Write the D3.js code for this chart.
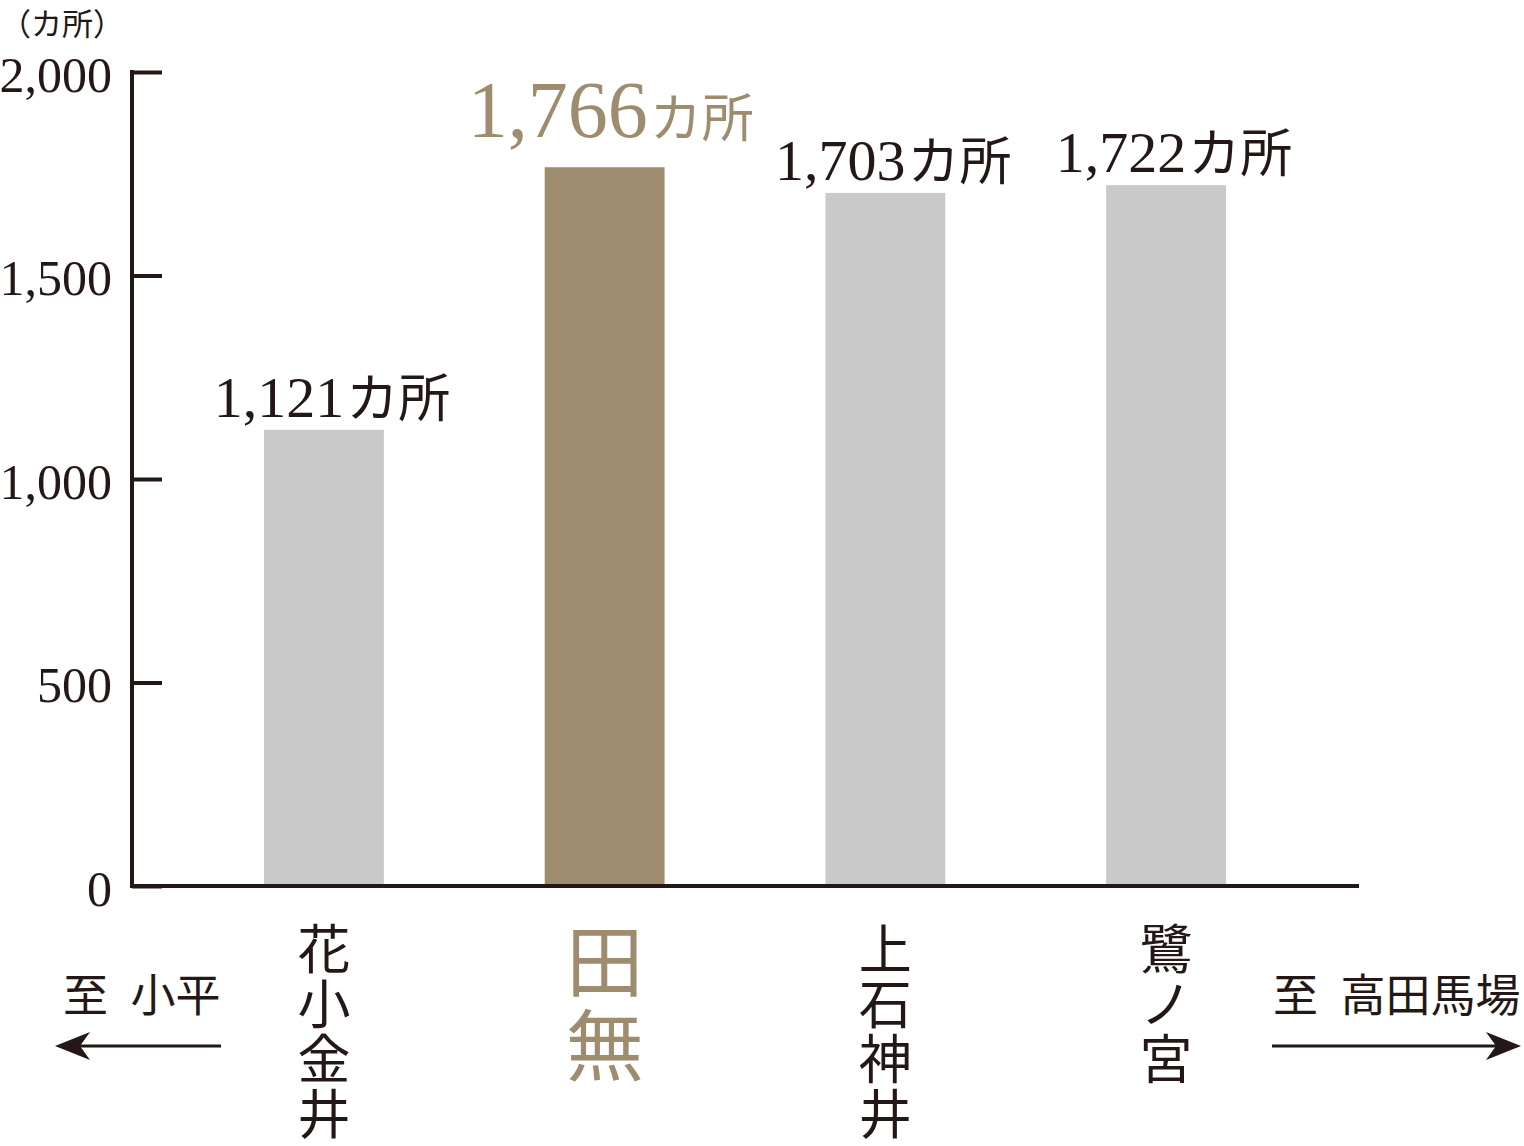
<!DOCTYPE html>
<html>
<head>
<meta charset="utf-8">
<script src="https://cdn.jsdelivr.net/npm/d3@7"></script>
<style>
  body { margin: 0; background: #fff; }
  svg { display: block; }
</style>
</head>
<body>
<div id="chart"></div>
<script>
// data
var stations = ["花小金井", "田無", "上石神井", "鷺ノ宮"];
var counts = [1121, 1766, 1703, 1722];
var highlight = "田無";
var yTicks = [0, 500, 1000, 1500, 2000];
var unitLabel = "（カ所）";
var valueUnit = "カ所";
var leftDirection = "至\u2002小平";
var rightDirection = "至\u2002高田馬場";

var svgWidth = 1524;
var svgHeight = 1146;

var ink = "#231815";
var grey = "#c9c9c9";
var brown = "#9e8c6e";
var serif = "'Liberation Serif', 'DejaVu Serif', serif";
var jp = "'Noto Sans CJK JP', sans-serif";

var svg = d3.select("#chart")
  .append("svg")
  .attr("width", svgWidth)
  .attr("height", svgHeight);

// scales
var x = d3.scaleBand()
  .domain(stations)
  .range([264, 1226])
  .paddingInner(0.573)
  .paddingOuter(0);

var y = d3.scaleLinear()
  .domain([0, 2000])
  .range([886, 72]);

var data = stations.map(function(s, i) { return { name: s, value: counts[i] }; });

// bars
svg.selectAll(".bar")
  .data(data)
  .enter()
  .append("rect")
  .attr("class", "bar")
  .attr("x", d => x(d.name))
  .attr("width", x.bandwidth())
  .attr("y", d => y(d.value))
  .attr("height", d => y(0) - y(d.value))
  .attr("fill", d => d.name === highlight ? brown : grey);

// y axis
var leftAxis = d3.axisLeft(y)
  .tickValues(yTicks)
  .tickFormat(d3.format(","))
  .tickSizeInner(-30)
  .tickSizeOuter(0)
  .tickPadding(20);

var yAxis = svg.append("g")
  .attr("transform", "translate(132,0)")
  .call(leftAxis);

yAxis.select(".domain").remove();
yAxis.selectAll(".tick line")
  .attr("stroke", ink)
  .attr("stroke-width", 4);
yAxis.selectAll(".tick text")
  .attr("fill", ink)
  .attr("dy", "0.38em")
  .style("font-family", serif)
  .style("font-size", "50px");

// axis lines
svg.append("line")
  .attr("x1", 132).attr("x2", 132)
  .attr("y1", y(2000) - 2).attr("y2", y(0))
  .attr("stroke", ink)
  .attr("stroke-width", 4);

svg.append("line")
  .attr("x1", 130).attr("x2", 1359)
  .attr("y1", y(0)).attr("y2", y(0))
  .attr("stroke", ink)
  .attr("stroke-width", 4);

// unit label
svg.append("text")
  .attr("x", 0)
  .attr("y", 35)
  .attr("fill", ink)
  .style("font-family", jp)
  .style("font-size", "31px")
  .text(unitLabel);

// value labels
var labels = svg.selectAll(".value")
  .data(data)
  .enter()
  .append("text")
  .attr("class", "value")
  .attr("x", d => x(d.name) + x.bandwidth() / 2 + (d.name === highlight ? 6 : 8))
  .attr("y", d => y(d.value) - (d.name === highlight ? 30 : 13))
  .attr("text-anchor", "middle")
  .attr("fill", d => d.name === highlight ? brown : ink);

labels.append("tspan")
  .style("font-family", serif)
  .style("font-size", d => d.name === highlight ? "80px" : "58px")
  .text(d => d3.format(",")(d.value));

labels.append("tspan")
  .attr("dx", 2)
  .style("font-family", jp)
  .style("font-size", "52px")
  .text(valueUnit);

// station names, written vertically
svg.selectAll(".station")
  .data(data)
  .enter()
  .append("text")
  .attr("class", "station")
  .attr("x", d => x(d.name) + x.bandwidth() / 2)
  .attr("y", d => d.name === highlight ? 922 : 922)
  .style("writing-mode", "vertical-rl")
  .style("text-orientation", "upright")
  .style("letter-spacing", d => d.name === highlight ? "6px" : "2px")
  .style("font-family", jp)
  .style("font-size", d => d.name === highlight ? "78px" : "53px")
  .attr("fill", d => d.name === highlight ? brown : ink)
  .text(d => d.name);

// direction labels and arrows
svg.append("text")
  .attr("x", 63)
  .attr("y", 1012)
  .attr("fill", ink)
  .style("font-family", jp)
  .style("font-size", "45px")
  .text(leftDirection);

svg.append("text")
  .attr("x", 1273)
  .attr("y", 1012)
  .attr("fill", ink)
  .style("font-family", jp)
  .style("font-size", "45px")
  .text(rightDirection);

svg.append("line")
  .attr("x1", 221).attr("x2", 75)
  .attr("y1", 1046).attr("y2", 1046)
  .attr("stroke", ink)
  .attr("stroke-width", 3);
svg.append("path")
  .attr("d", "M55,1046 L90,1032 L80,1046 L90,1060 Z")
  .attr("fill", ink);

svg.append("line")
  .attr("x1", 1272).attr("x2", 1500)
  .attr("y1", 1046).attr("y2", 1046)
  .attr("stroke", ink)
  .attr("stroke-width", 3);
svg.append("path")
  .attr("d", "M1521,1046 L1486,1032 L1496,1046 L1486,1060 Z")
  .attr("fill", ink);
</script>
</body>
</html>
